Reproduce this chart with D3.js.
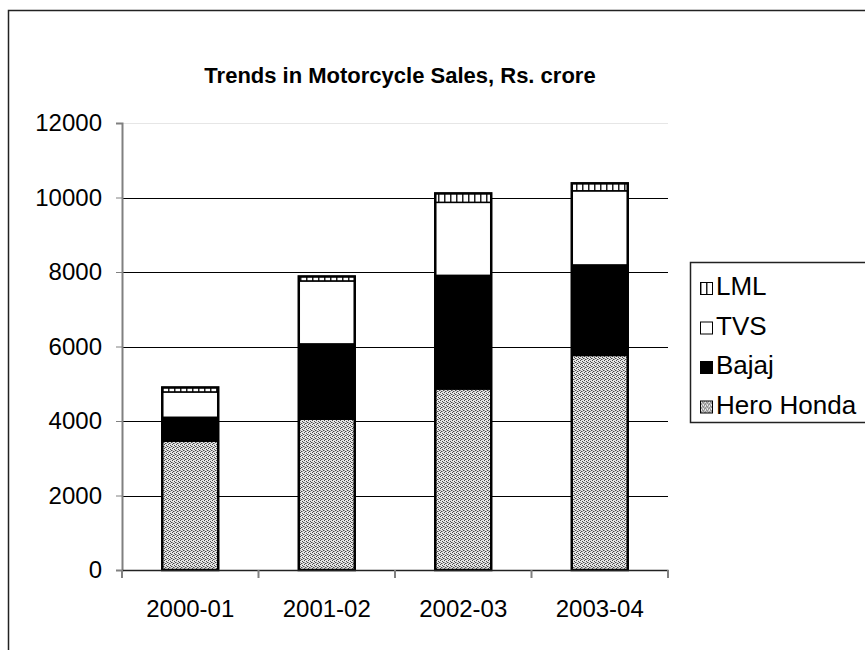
<!DOCTYPE html>
<html>
<head>
<meta charset="utf-8">
<script src="https://cdn.jsdelivr.net/npm/d3@7"></script>
<style>
  body { margin: 0; background: #fff; }
  text { font-family: "Liberation Sans", Arial, sans-serif; }
</style>
</head>
<body>
<div id="chart"></div>
<script>
// values (Rs. crore)
const years = ["2000-01", "2001-02", "2002-03", "2003-04"]
const heroHonda = [3460, 4050, 4860, 5760]
const bajaj = [640, 2020, 3050, 2430]
const tvs = [680, 1690, 1960, 1990]
const lml = [120, 120, 240, 200]
const seriesNames = ["Hero Honda", "Bajaj", "TVS", "LML"]
const yTicks = [0, 2000, 4000, 6000, 8000, 10000, 12000]

const width = 865, height = 650
const margin = {left: 122, right: 197, top: 123, bottom: 80}

var rows = years.map((y, i) => ({
  year: y,
  "Hero Honda": heroHonda[i],
  "Bajaj": bajaj[i],
  "TVS": tvs[i],
  "LML": lml[i]
}))

var svg = d3.select("#chart")
  .append("svg")
  .attr("width", width)
  .attr("height", height)

// patterns
var defs = svg.append("defs")
var hh = defs.append("pattern")
  .attr("id", "pat-hh")
  .attr("width", 4).attr("height", 4)
  .attr("patternUnits", "userSpaceOnUse")
hh.append("rect").attr("width", 4).attr("height", 4).attr("fill", "#e6e6e6")
// dark dither pixels, then mid-grey ones
;[[0, 0], [2, 1], [1, 3], [3, 2], [2, 3], [0, 2]].forEach((p, i) => {
  hh.append("rect").attr("x", p[0]).attr("y", p[1]).attr("width", 1).attr("height", 1)
    .attr("fill", i < 4 ? "#4a4a4a" : "#9a9a9a")
})
var lp = defs.append("pattern")
  .attr("id", "pat-lml")
  .attr("width", 6).attr("height", 6)
  .attr("patternUnits", "userSpaceOnUse")
lp.append("rect").attr("width", 6).attr("height", 6).attr("fill", "#fff")
lp.append("rect").attr("x", 0).attr("width", 1.5).attr("height", 6).attr("fill", "#222")

const fills = {
  "Hero Honda": "url(#pat-hh)",
  "Bajaj": "#000",
  "TVS": "#fff",
  "LML": "url(#pat-lml)"
}

// outer frame
svg.append("rect")
  .attr("x", 8.5).attr("y", 10.5)
  .attr("width", 880).attr("height", 660)
  .attr("fill", "none")
  .attr("stroke", "#222")
  .attr("stroke-width", 1.5)

svg.append("text")
  .attr("x", 400)
  .attr("y", 83)
  .attr("text-anchor", "middle")
  .attr("font-size", "22px")
  .attr("font-weight", "bold")
  .text("Trends in Motorcycle Sales, Rs. crore")

var x = d3.scaleBand()
  .domain(years)
  .range([margin.left, width - margin.right])
  .paddingInner(0.59)
  .paddingOuter(0.295)

var y = d3.scaleLinear()
  .domain([0, 12000])
  .range([height - margin.bottom, margin.top])

// gridlines
svg.append("g")
  .selectAll("line")
  .data(yTicks.filter(t => t > 0))
  .enter()
  .append("line")
  .attr("x1", margin.left)
  .attr("x2", width - margin.right)
  .attr("y1", d => Math.round(y(d)) + 0.5)
  .attr("y2", d => Math.round(y(d)) + 0.5)
  .attr("stroke", d => d == 12000 ? "#e6e6e6" : "#000")
  .attr("stroke-width", 1)

// stacked bars
var stack = d3.stack().keys(seriesNames)
var layers = stack(rows)

svg.append("g")
  .selectAll("g")
  .data(layers)
  .enter()
  .append("g")
  .attr("fill", d => fills[d.key])
  .selectAll("rect")
  .data(d => d)
  .enter()
  .append("rect")
  .attr("x", d => x(d.data.year))
  .attr("y", d => y(d[1]))
  .attr("width", x.bandwidth())
  .attr("height", d => y(d[0]) - y(d[1]))
  .attr("stroke", "#000")
  .attr("stroke-width", 1.5)

// bar outlines
svg.append("g")
  .selectAll("rect")
  .data(rows)
  .enter()
  .append("rect")
  .attr("x", d => x(d.year))
  .attr("y", d => y(d["Hero Honda"] + d["Bajaj"] + d["TVS"] + d["LML"]))
  .attr("width", x.bandwidth())
  .attr("height", d => y(0) - y(d["Hero Honda"] + d["Bajaj"] + d["TVS"] + d["LML"]))
  .attr("fill", "none")
  .attr("stroke", "#000")
  .attr("stroke-width", 2.5)

// y axis
var yAxis = svg.append("g")
  .attr("transform", "translate(" + margin.left + ",0)")
  .call(d3.axisLeft(y).tickValues(yTicks).tickSize(6).tickPadding(14).tickFormat(d3.format("d")))
yAxis.select(".domain").attr("stroke", "#808080").attr("stroke-width", 2)
yAxis.selectAll(".tick line").attr("stroke", "#808080")
yAxis.selectAll(".tick text")
  .attr("font-size", "24px")
  .attr("fill", "#000")
  .attr("font-family", "Liberation Sans, Arial, sans-serif")

// x axis
var xAxis = svg.append("g")
  .attr("transform", "translate(0," + (height - margin.bottom) + ")")
  .call(d3.axisBottom(x).tickSize(0).tickPadding(30))
xAxis.select(".domain").attr("stroke", "#222").attr("stroke-width", 1.5)
xAxis.selectAll(".tick text")
  .attr("font-size", "24px")
  .attr("fill", "#000")
  .attr("font-family", "Liberation Sans, Arial, sans-serif")

// category separator ticks
var step = x.step()
svg.append("g")
  .selectAll("line")
  .data(d3.range(years.length + 1))
  .enter()
  .append("line")
  .attr("x1", i => margin.left + i * step)
  .attr("x2", i => margin.left + i * step)
  .attr("y1", height - margin.bottom)
  .attr("y2", height - margin.bottom + 8)
  .attr("stroke", "#808080")
  .attr("stroke-width", 2)

// legend
var legend = svg.append("g").attr("transform", "translate(690,262)")
legend.append("rect")
  .attr("x", 0.5).attr("y", 0.5)
  .attr("width", 200).attr("height", 160)
  .attr("fill", "#fff")
  .attr("stroke", "#222")
  .attr("stroke-width", 1.5)

var item = legend.selectAll(".item")
  .data(seriesNames.slice().reverse())
  .enter()
  .append("g")
  .attr("class", "item")
  .attr("transform", (d, i) => "translate(10," + (20 + i * 39.5) + ")")

item.append("rect")
  .attr("x", 0.5).attr("y", 0.5)
  .attr("width", 12).attr("height", 12)
  .attr("fill", d => fills[d])
  .attr("stroke", "#000")
  .attr("stroke-width", 1)

item.append("text")
  .attr("x", 16)
  .attr("y", 13)
  .attr("font-size", "26px")
  .text(d => d)
</script>
</body>
</html>
